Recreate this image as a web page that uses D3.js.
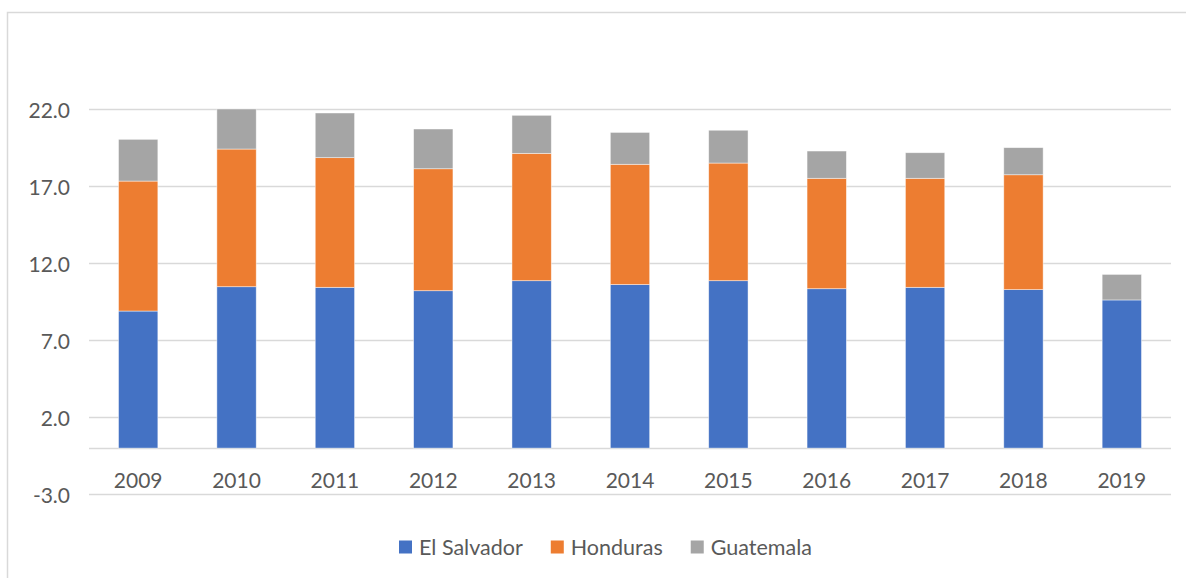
<!DOCTYPE html>
<html>
<head>
<meta charset="utf-8">
<script src="https://cdn.jsdelivr.net/npm/d3@7"></script>
<style>
  body { margin: 0; background: #fff; }
  svg text { font-family: Lato, "Open Sans", sans-serif; fill: #595959; }
</style>
</head>
<body>
<div id="graph"></div>
<script>
// data
var years = ["2009", "2010", "2011", "2012", "2013", "2014", "2015", "2016", "2017", "2018", "2019"];
var elSalvador = [8.90, 10.48, 10.44, 10.22, 10.87, 10.62, 10.87, 10.35, 10.44, 10.29, 9.62];
var honduras   = [8.44, 8.94, 8.42, 7.92, 8.27, 7.81, 7.64, 7.17, 7.08, 7.46, 0];
var guatemala  = [2.71, 2.60, 2.90, 2.58, 2.47, 2.07, 2.13, 1.77, 1.66, 1.76, 1.66];
var seriesNames = ["El Salvador", "Honduras", "Guatemala"];
var yTicks = [-3, 2, 7, 12, 17, 22];

var width = 1186, height = 578;
var colors = ["#4472c4", "#ed7d31", "#a5a5a5"];

var table = years.map(function (y, i) {
  return { year: y, "El Salvador": elSalvador[i], "Honduras": honduras[i], "Guatemala": guatemala[i] };
});

var svg = d3.select("#graph").append("svg")
  .attr("width", width)
  .attr("height", height);

// chart frame
svg.append("rect")
  .attr("x", 7.5).attr("y", 12.5)
  .attr("width", 1200).attr("height", 600)
  .attr("fill", "none")
  .attr("stroke", "#d9d9d9")
  .attr("stroke-width", 1.5);

var x = d3.scaleBand()
  .domain(years)
  .range([89, 1171])
  .paddingInner(0.6)
  .paddingOuter(0.3);

var y = d3.scaleLinear()
  .domain([-3, 22])
  .range([494.3, 109.3]);

// gridlines
svg.append("g")
  .selectAll("line")
  .data(yTicks.concat([0]))
  .enter()
  .append("line")
  .attr("x1", 89).attr("x2", 1171)
  .attr("y1", function (d) { return Math.round(y(d)) + 0.5; })
  .attr("y2", function (d) { return Math.round(y(d)) + 0.5; })
  .attr("stroke", "#d9d9d9")
  .attr("stroke-width", 1.5);

// y labels (plain hyphen for negatives, like the original)
var yAxis = svg.append("g")
  .attr("transform", "translate(70,0)")
  .call(d3.axisLeft(y).tickValues(yTicks)
    .tickFormat(function (d) { return d.toFixed(1); })
    .tickSize(0).tickPadding(0));
yAxis.select(".domain").remove();
yAxis.selectAll("text")
  .attr("font-size", 21)
  .attr("dy", "0.38em")
  .attr("fill", "#595959");

// stacked bars
var stack = d3.stack().keys(seriesNames);
var layers = stack(table);

svg.append("g")
  .selectAll("g")
  .data(layers)
  .enter()
  .append("g")
  .attr("fill", function (d, i) { return colors[i]; })
  .selectAll("rect")
  .data(function (d) { return d.filter(function (s) { return s[1] - s[0] > 0; }); })
  .enter()
  .append("rect")
  .attr("x", function (d) { return x(d.data.year); })
  .attr("width", x.bandwidth())
  .attr("y", function (d) { return y(d[1]); })
  .attr("height", function (d) { return y(d[0]) - y(d[1]); })
  .attr("stroke", "#ffffff")
  .attr("stroke-opacity", 0.6)
  .attr("stroke-width", 0.75);

// category labels
svg.append("g")
  .selectAll("text")
  .data(years)
  .enter()
  .append("text")
  .attr("x", function (d) { return x(d) + x.bandwidth() / 2; })
  .attr("y", 487.5)
  .attr("text-anchor", "middle")
  .attr("font-size", 21)
  .text(function (d) { return d; });

// legend
var legend = svg.append("g");
var lx = 399;
seriesNames.forEach(function (name, i) {
  var item = legend.append("g").attr("transform", "translate(" + lx + ",0)");
  item.append("rect")
    .attr("x", 0).attr("y", 540.5)
    .attr("width", 13).attr("height", 13)
    .attr("fill", colors[i]);
  var t = item.append("text")
    .attr("x", 20).attr("y", 554.5)
    .attr("font-size", 21.5)
    .text(name);
  lx += 20 + t.node().getComputedTextLength() + 28;
});
</script>
</body>
</html>
